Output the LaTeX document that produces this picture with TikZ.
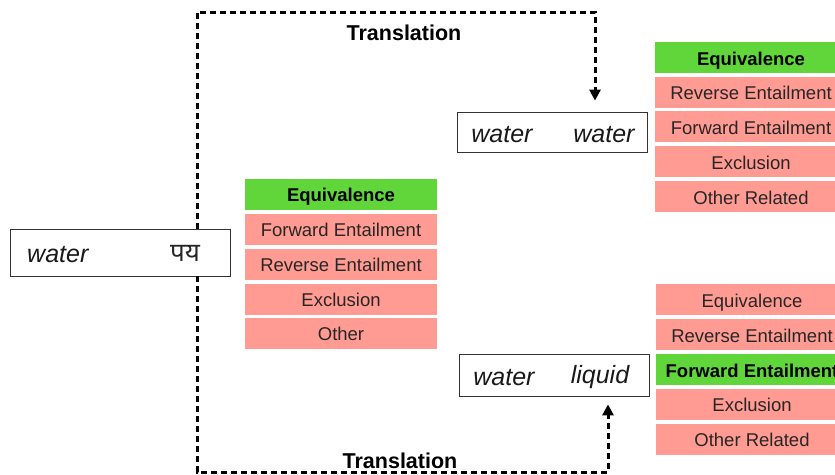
\documentclass[tikz,border=0pt]{standalone}
\usepackage{fontspec}
\setmainfont{Liberation Sans}
\newfontfamily\devfont[Script=Devanagari]{Noto Sans}
\usetikzlibrary{arrows.meta}
\definecolor{relgreen}{RGB}{96,214,58}
\definecolor{relpink}{RGB}{255,155,146}
\tikzset{
  rowbox/.style={fill=relpink, minimum width=192pt, minimum height=31pt, inner sep=0pt,
    text height=15.5pt, text depth=0pt,
    font=\fontsize{18.5}{20}\selectfont, text=black!85},
  rowgreen/.style={rowbox, fill=relgreen, font=\fontsize{18.5}{20}\selectfont\bfseries, text=black},
  wordbox/.style={draw=black!80, line width=0.8pt, fill=white, inner sep=0pt},
  word/.style={font=\fontsize{25}{28}\selectfont\itshape, inner sep=0pt, text=black!90},
  dl/.style={line width=3pt, dash pattern=on 6pt off 4pt, black},
  tlabel/.style={font=\fontsize{21.5}{24}\selectfont\bfseries, inner sep=0pt}
}
\begin{document}
\begin{tikzpicture}[x=1pt,y=-1pt]
\useasboundingbox (0,0) rectangle (835,474);
\fill[white] (0,0) rectangle (835,474);
% word boxes
\node[wordbox, minimum width=220pt, minimum height=47pt] (lb) at (120,252.5) {};
\node[word, anchor=west] (lbw) at (27,254.5) {water};
\node[inner sep=0pt, font=\fontsize{26}{28}\selectfont\devfont, text=black!85] (lbh) at (185,253) {पय};
\node[wordbox, minimum width=190pt, minimum height=40pt] (ww) at (552,132) {};
\node[word] (ww1) at (502,134.5) {water};
\node[word] (ww2) at (604,134.5) {water};
\node[wordbox, minimum width=190pt, minimum height=42pt] (wl) at (554,375) {};
\node[word] (wl1) at (504,377.5) {water};
\node[word] (wl2) at (600,377.5) {liquid};
% middle table
\node[rowgreen] (m1) at (341,194) {Equivalence};
\node[rowbox] (m2) at (341,229) {Forward Entailment};
\node[rowbox] (m3) at (341,264) {Reverse Entailment};
\node[rowbox] (m4) at (341,299) {Exclusion};
\node[rowbox] (m5) at (341,333) {Other};
% top right table
\node[rowgreen] (a1) at (751,57.5) {Equivalence};
\node[rowbox] (a2) at (751,92.2) {Reverse Entailment};
\node[rowbox] (a3) at (751,126.9) {Forward Entailment};
\node[rowbox] (a4) at (751,161.6) {Exclusion};
\node[rowbox] (a5) at (751,196.3) {Other Related};
% bottom right table
\node[rowbox] (b1) at (752,299.5) {Equivalence};
\node[rowbox] (b2) at (752,334.4) {Reverse Entailment};
\node[rowgreen] (b3) at (752,369.3) {Forward Entailment};
\node[rowbox] (b4) at (752,404.2) {Exclusion};
\node[rowbox] (b5) at (752,439.1) {Other Related};
% connectors
\coordinate (tx) at (197,0);
\coordinate (tc) at (595,12);
\coordinate (bc) at (608,472);
\draw[dl, -{Triangle[width=11pt,length=11pt]}, shorten >=11pt] (lb.north -| tx) |- (tc) -- (ww.north -| tc);
\draw[dl, -{Triangle[width=11pt,length=11pt]}, shorten >=8pt] (lb.south -| tx) |- (bc) -- (wl.south -| bc);
\node[tlabel] (t1) at (404,33) {Translation};
\node[tlabel] (t2) at (400,461) {Translation};
\end{tikzpicture}
\end{document}
